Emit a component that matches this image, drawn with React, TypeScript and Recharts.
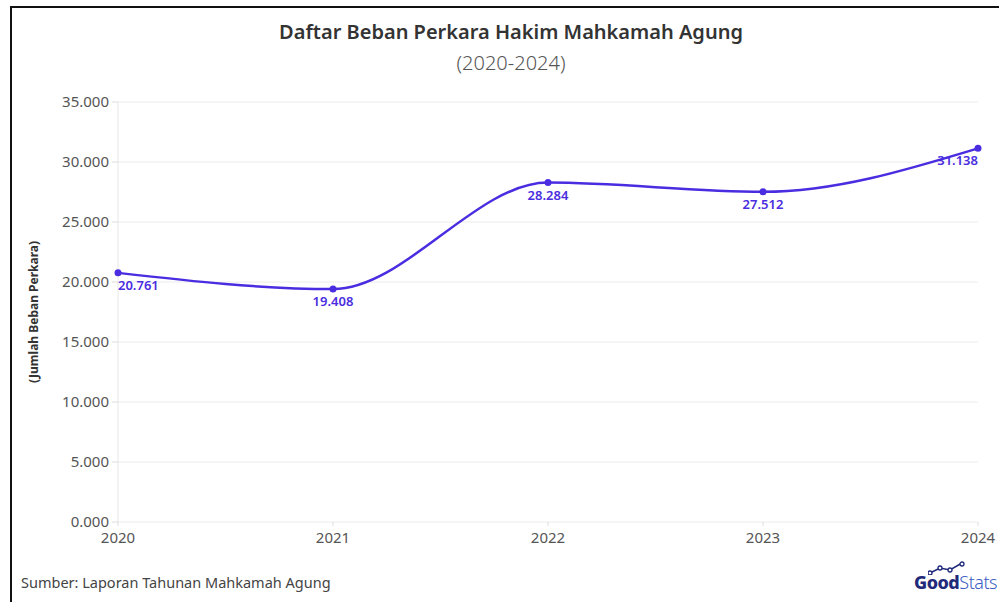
import React from "react"
import { LineChart, Line, XAxis, YAxis, CartesianGrid, LabelList } from "recharts"

const years = ["2020", "2021", "2022", "2023", "2024"]
const caseLoad = [20761, 19408, 28284, 27512, 31138]
const yTicks = [0, 5000, 10000, 15000, 20000, 25000, 30000, 35000]

const data = years.map((year, i) => ({ year, value: caseLoad[i] }))

const purple = "#4a2de0"
const font = "'Noto Sans', 'Open Sans', sans-serif"

const fmtTick = (v: number) => (v === 0 ? "0.000" : v.toLocaleString("de-DE"))

const ValueLabel = (props: any) => {
  const { x, y, value, index } = props
  const anchor = index === 0 ? "start" : index === years.length - 1 ? "end" : "middle"
  return (
    <text x={x} y={y + 17} textAnchor={anchor} fill={purple} fontSize={13} fontWeight={600} fontFamily={font}>
      {Number(value).toLocaleString("de-DE")}
    </text>
  )
}

export default function App() {
  return (
    <div style={{ position: "absolute", left: 0, top: 0, width: 999, height: 602, background: "#fff", fontFamily: font, overflow: "hidden" }}>
      <div style={{ position: "absolute", left: 10, top: 6, width: 1000, height: 700, borderLeft: "2px solid #111", borderTop: "2px solid #111" }} />
      <div style={{ position: "absolute", left: 0, width: 1022, top: 18, textAlign: "center", fontSize: 20, fontWeight: 600, color: "#333" }}>
        Daftar Beban Perkara Hakim Mahkamah Agung
      </div>
      <div style={{ position: "absolute", left: 0, width: 1022, top: 49, textAlign: "center", fontSize: 20, fontWeight: 300, color: "#555" }}>
        (2020-2024)
      </div>
      <LineChart width={999} height={602} data={data} margin={{ top: 102, right: 21, bottom: 50, left: 58 }}>
        <CartesianGrid vertical={false} stroke="#ececec" />
        <XAxis
          dataKey="year"
          height={30}
          axisLine={false}
          tickLine={{ stroke: "#ddd" }}
          tickSize={4}
          tickMargin={6}
          tick={{ fill: "#555", fontSize: 15, fontFamily: font }}
          interval={0}
        />
        <YAxis
          width={60}
          domain={[0, 35000]}
          ticks={yTicks}
          tickFormatter={fmtTick}
          axisLine={{ stroke: "#e6e6e6" }}
          tickLine={{ stroke: "#ddd" }}
          tickSize={6}
          tickMargin={3}
          tick={{ fill: "#555", fontSize: 15, fontFamily: font }}
        />
        <YAxis yAxisId="right" orientation="right" width={0} domain={[0, 35000]} axisLine={{ stroke: "#eeeeee" }} tick={false} tickLine={false} />
        <Line
          type="monotone"
          dataKey="value"
          stroke={purple}
          strokeWidth={2.5}
          dot={{ r: 3.5, fill: purple, stroke: purple, strokeWidth: 0 }}
          isAnimationActive={false}
        >
          <LabelList dataKey="value" content={ValueLabel} />
        </Line>
      </LineChart>
      <div style={{ position: "absolute", left: 33, top: 312, transform: "translate(-50%, -50%) rotate(-90deg)", fontSize: 12, fontWeight: 700, color: "#333", whiteSpace: "nowrap" }}>
        (Jumlah Beban Perkara)
      </div>
      <div style={{ position: "absolute", left: 21, top: 572, fontSize: 14.5, color: "#444" }}>
        Sumber: Laporan Tahunan Mahkamah Agung
      </div>
      <div style={{ position: "absolute", left: 914, top: 570, fontSize: 18, whiteSpace: "nowrap", letterSpacing: -0.5 }}>
        <svg width={40} height={14} style={{ position: "absolute", left: 14, top: -9 }}>
          <polyline points="2,12 12,7 22,9 34,2" fill="none" stroke="#1f2a7a" strokeWidth={1.5} />
          <circle cx={2} cy={12} r={2} fill="#fff" stroke="#1f2a7a" strokeWidth={1.3} />
          <circle cx={12} cy={7} r={2} fill="#fff" stroke="#1f2a7a" strokeWidth={1.3} />
          <circle cx={22} cy={9} r={2} fill="#fff" stroke="#1f2a7a" strokeWidth={1.3} />
          <circle cx={34} cy={3} r={2} fill="#fff" stroke="#1f2a7a" strokeWidth={1.3} />
        </svg>
        <span style={{ fontWeight: 800, color: "#1f2a7a" }}>Good</span>
        <span style={{ fontWeight: 300, color: "#3a5cc4" }}>Stats</span>
      </div>
    </div>
  )
}
